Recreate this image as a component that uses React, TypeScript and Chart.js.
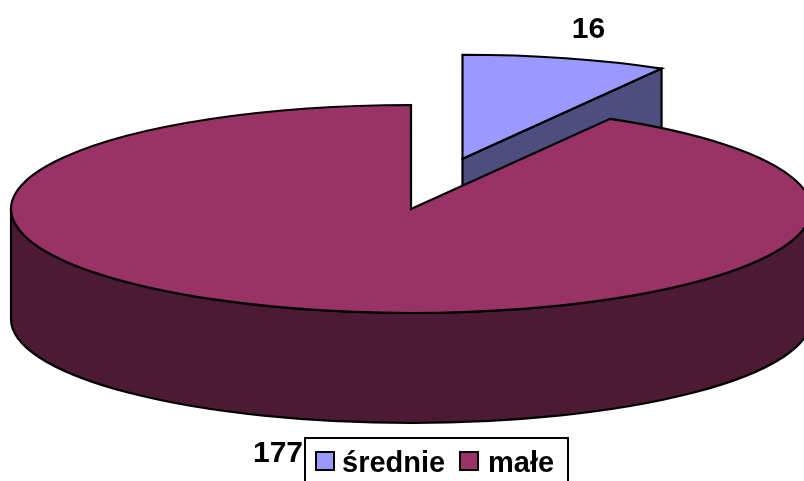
import React, { useEffect, useRef } from "react";
import { Chart, registerables } from "chart.js";

Chart.register(...registerables);

const categories = ["średnie", "małe"];
const values = [16, 177];
const topColors = ["#9999FF", "#993366"];
const sideColors = ["#4D4D80", "#4D1A33"];
const explodeFractions = [0.5, 0];
const valueLabelAnchors = [
  { x: 588.5, y: 38 },
  { x: 278, y: 462 },
];

const RX_FACTOR = 400 / 209;
const RY_FACTOR = 104 / 209;
const DEPTH = 110;
const FONT = 'bold 29px "Liberation Sans", Arial, sans-serif';
const VALUE_FONT = 'bold 30px "Liberation Sans", Arial, sans-serif';

const pie3dPlugin = {
  id: "pie3d",
  beforeDatasetsDraw(chart: any) {
    const ctx: CanvasRenderingContext2D = chart.ctx;
    const arcs = chart.getDatasetMeta(0).data;
    ctx.save();
    ctx.lineWidth = 2.2;
    ctx.strokeStyle = "#000";
    ctx.lineJoin = "miter";

    arcs.forEach((arc: any, i: number) => {
      const { x, y, startAngle, endAngle, outerRadius } = arc;
      const rx = outerRadius * RX_FACTOR;
      const ry = outerRadius * RY_FACTOR;
      const mid = (startAngle + endAngle) / 2;
      const cx = x + Math.cos(mid) * rx * explodeFractions[i];
      const cy = y + Math.sin(mid) * ry * explodeFractions[i];

      ctx.fillStyle = sideColors[i];
      ctx.beginPath();
      if (endAngle - startAngle > Math.PI) {
        ctx.ellipse(cx, cy, rx, ry, 0, 0, Math.PI);
        ctx.lineTo(cx - rx, cy + DEPTH);
        ctx.ellipse(cx, cy + DEPTH, rx, ry, 0, Math.PI, 0, true);
        ctx.closePath();
      } else {
        const ex = cx + Math.cos(endAngle) * rx;
        const ey = cy + Math.sin(endAngle) * ry;
        ctx.moveTo(cx, cy);
        ctx.lineTo(ex, ey);
        ctx.lineTo(ex, ey + DEPTH);
        ctx.lineTo(cx, cy + DEPTH);
        ctx.closePath();
      }
      ctx.fill();
      ctx.stroke();

      ctx.fillStyle = topColors[i];
      ctx.beginPath();
      ctx.moveTo(cx, cy);
      ctx.ellipse(cx, cy, rx, ry, 0, startAngle, endAngle);
      ctx.closePath();
      ctx.fill();
      ctx.stroke();
    });

    ctx.fillStyle = "#000";
    ctx.font = VALUE_FONT;
    ctx.textAlign = "center";
    ctx.textBaseline = "alphabetic";
    values.forEach((v, i) => {
      ctx.fillText(String(v), valueLabelAnchors[i].x, valueLabelAnchors[i].y);
    });

    // legend box, cut off by the bottom of the picture
    ctx.font = FONT;
    ctx.lineWidth = 2;
    ctx.fillStyle = "#fff";
    ctx.beginPath();
    ctx.rect(305, 438, 263, 60);
    ctx.fill();
    ctx.stroke();

    const swatchX = [316, 460];
    const textX = [342, 488];
    ctx.textAlign = "left";
    categories.forEach((name, i) => {
      ctx.fillStyle = topColors[i];
      ctx.fillRect(swatchX[i], 452, 18, 18);
      ctx.strokeRect(swatchX[i], 452, 18, 18);
      ctx.fillStyle = "#000";
      ctx.fillText(name, textX[i], 472);
    });

    ctx.restore();
    return false;
  },
};

export default function App() {
  const ref = useRef<HTMLCanvasElement>(null);
  useEffect(() => {
    document.body.style.margin = "0";
    const chart = new Chart(ref.current!, {
      type: "pie",
      data: {
        labels: categories,
        datasets: [{ data: values, backgroundColor: topColors, borderColor: "#000", borderWidth: 0 }],
      },
      options: {
        responsive: false,
        animation: false,
        layout: { padding: { left: 18, bottom: 63 } },
        plugins: { legend: { display: false }, tooltip: { enabled: false } },
      },
      plugins: [pie3dPlugin],
    } as any);
    return () => chart.destroy();
  }, []);
  return <canvas ref={ref} width={804} height={481} style={{ display: "block" }} />;
}
